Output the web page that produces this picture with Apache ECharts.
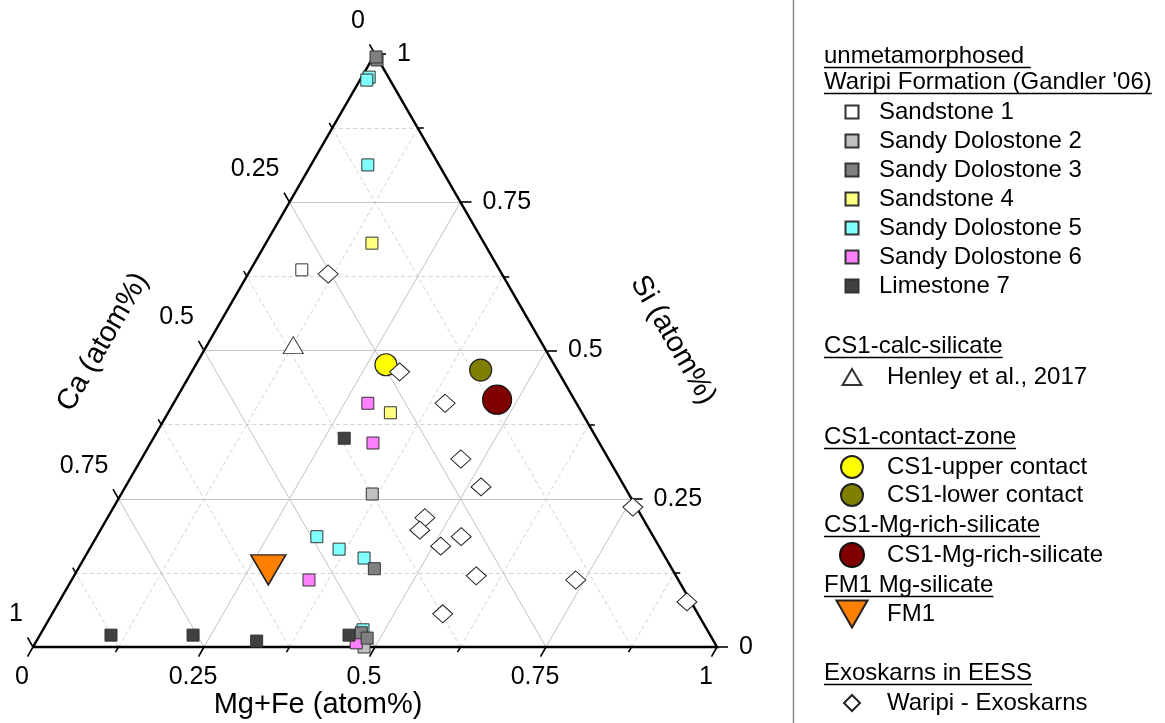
<!DOCTYPE html>
<html><head><meta charset="utf-8">
<script src="https://cdn.jsdelivr.net/npm/echarts@6/dist/echarts.min.js"></script>
<style>html,body{margin:0;padding:0;background:#fff}#c{width:1165px;height:723px}</style>
</head><body><div id="c"></div>
<script>
// ---- data: each point is [Si, Ca, Mg+Fe] (atom fractions) ----
const sandstone1   = [[0.636, 0.289, 0.075]];
const sandyDol2    = [[0.258, 0.375, 0.367], [0.000, 0.516, 0.484]];
const sandyDol3    = [[0.990, 0.002, 0.008], [0.995, 0.001, 0.004], [0.132, 0.435, 0.433], [0.024, 0.508, 0.468], [0.015, 0.504, 0.481]];
const sandstone4   = [[0.681, 0.164, 0.155], [0.395, 0.280, 0.325]];
const sandyDol5    = [[0.961, 0.028, 0.011], [0.956, 0.034, 0.010], [0.813, 0.104, 0.083], [0.186, 0.492, 0.322], [0.165, 0.470, 0.365], [0.150, 0.441, 0.409], [0.029, 0.503, 0.468]];
const sandyDol6    = [[0.411, 0.305, 0.284], [0.344, 0.331, 0.325], [0.113, 0.540, 0.347], [0.007, 0.524, 0.469]];
const limestone7   = [[0.352, 0.369, 0.279], [0.020, 0.876, 0.104], [0.020, 0.756, 0.224], [0.010, 0.668, 0.322], [0.020, 0.528, 0.452]];
const henley       = [[0.509, 0.365, 0.126]];
const upperContact = [[0.476, 0.246, 0.278]];
const lowerContact = [[0.467, 0.112, 0.421]];
const mgRich       = [[0.417, 0.113, 0.470]];
const fm1          = [[0.130, 0.591, 0.279]];
const exoskarns    = [[0.629, 0.254, 0.117], [0.464, 0.232, 0.304], [0.411, 0.192, 0.397], [0.317, 0.216, 0.467],
                      [0.270, 0.210, 0.520], [0.218, 0.318, 0.464], [0.197, 0.336, 0.467], [0.170, 0.319, 0.511],
                      [0.186, 0.281, 0.533], [0.120, 0.292, 0.588], [0.113, 0.150, 0.737], [0.056, 0.373, 0.571],
                      [0.236, 0.005, 0.759], [0.076, 0.006, 0.918]];
const majorTicks = [0, 0.25, 0.5, 0.75, 1];
const tickLabels = ['0', '0.25', '0.5', '0.75', '1'];
const minorTicks = [0.125, 0.375, 0.625, 0.875];

// ---- helpers ----
const FONT = '"Liberation Sans", Arial, Helvetica, sans-serif';
const SQ = Math.sqrt(3) / 2;
const PXU = 684; // pixels per unit (grid width)
function xy(si, mg) { return [mg + si / 2, si * SQ]; }
function pts(arr) { return arr.map(p => xy(p[0], p[2])); }
function gridLinesFor(v) {
  return [
    [xy(v, 0), xy(v, 1 - v)],          // Si = v
    [xy(0, v), xy(1 - v, v)],          // Mg+Fe = v
    [xy(0, 1 - v), xy(1 - v, 0)]       // Ca = v
  ];
}
const allTicks = majorTicks.concat(minorTicks);
function tickSegs() {
  const segs = [];
  allTicks.forEach(v => {
    const L = (majorTicks.indexOf(v) >= 0 ? 11 : 6) / PXU;
    let p = xy(0, v); segs.push([p, [p[0] - 0.5 * L, p[1] - SQ * L]]);      // bottom (Mg+Fe)
    p = xy(1 - v, 0); segs.push([p, [p[0] - 0.5 * L, p[1] + SQ * L]]);      // left (Ca)
    p = xy(v, 1 - v); segs.push([p, [p[0] + L, p[1]]]);                    // right (Si)
  });
  return segs;
}

const squarePath = 'path://M0,0H10V10H0Z';
const triUpPath = 'path://M5,0L10,8.5L0,8.5Z';
const triDownPath = 'path://M0,0L10,0L5,8.7Z';
const diamondPath = 'path://M5,0L10,5L5,10L0,5Z';

function sq(name, data, color) {
  return { type: 'scatter', name, data: pts(data), symbol: 'rect', symbolSize: 12,
    itemStyle: { color, borderColor: '#333', borderWidth: 1, opacity: 1 }, clip: false, z: 5 };
}
function tickLabelSeries(pointFn, offset, align) {
  return { type: 'scatter', silent: true, clip: false, symbolSize: 1, z: 2,
    itemStyle: { color: '#000', opacity: 1 },
    data: majorTicks.map((v, i) => pointFn(v).concat([tickLabels[i]])),
    label: { show: true, position: 'inside', offset, align, verticalAlign: 'middle',
      color: '#000', opacity: 1, textBorderWidth: 0, fontSize: 25, fontFamily: FONT, formatter: p => p.value[2] } };
}

const series = [
  { type: 'lines', coordinateSystem: 'cartesian2d', silent: true, clip: false, z: 1,
    lineStyle: { color: '#d2d2d2', width: 1, type: [4, 3], opacity: 1 },
    data: minorTicks.flatMap(gridLinesFor).map(c => ({ coords: c })) },
  { type: 'lines', coordinateSystem: 'cartesian2d', silent: true, clip: false, z: 1,
    lineStyle: { color: '#c4c4c4', width: 1, type: 'solid', opacity: 1 },
    data: [0.25, 0.5, 0.75].flatMap(gridLinesFor).map(c => ({ coords: c })) },
  { type: 'lines', coordinateSystem: 'cartesian2d', silent: true, clip: false, z: 3,
    lineStyle: { color: '#000', width: 1.6, opacity: 1 },
    data: tickSegs().map(c => ({ coords: c })) },
  { type: 'lines', coordinateSystem: 'cartesian2d', polyline: true, silent: true, clip: false, z: 3,
    lineStyle: { color: '#000', width: 2.5, opacity: 1, join: 'miter' },
    data: [{ coords: [xy(0, 0), xy(0, 1), xy(1, 0), xy(0, 0)] }] },
  tickLabelSeries(v => xy(0, v), [-11, 30], 'center'),
  tickLabelSeries(v => xy(1 - v, 0), [-10, -33], 'right'),
  tickLabelSeries(v => xy(v, 1 - v), [22, 0], 'left'),
  sq('Sandy Dolostone 2', sandyDol2, '#c0c0c0'),
  sq('Sandstone 1', sandstone1, '#ffffff'),
  sq('Sandy Dolostone 6', sandyDol6, '#ff80ff'),
  sq('Limestone 7', limestone7, '#404040'),
  sq('Sandstone 4', sandstone4, '#ffff80'),
  sq('Sandy Dolostone 5', sandyDol5, '#80ffff'),
  sq('Sandy Dolostone 3', sandyDol3, '#808080'),
  { type: 'scatter', name: 'Henley et al., 2017', data: pts(henley), symbol: 'triangle', symbolSize: [20, 17], clip: false, z: 5,
    itemStyle: { color: '#fff', borderColor: '#333', borderWidth: 1, opacity: 1 } },
  { type: 'scatter', name: 'CS1-upper contact', data: pts(upperContact), symbol: 'circle', symbolSize: 22, clip: false, z: 5,
    itemStyle: { color: '#ffff00', borderColor: '#222', borderWidth: 1.2, opacity: 1 } },
  { type: 'scatter', name: 'CS1-lower contact', data: pts(lowerContact), symbol: 'circle', symbolSize: 22, clip: false, z: 5,
    itemStyle: { color: '#808000', borderColor: '#222', borderWidth: 1.2, opacity: 1 } },
  { type: 'scatter', name: 'CS1-Mg-rich-silicate', data: pts(mgRich), symbol: 'circle', symbolSize: 29, clip: false, z: 5,
    itemStyle: { color: '#800000', borderColor: '#111', borderWidth: 1.2, opacity: 1 } },
  { type: 'scatter', name: 'FM1', data: pts(fm1), symbol: 'triangle', symbolRotate: 180, symbolSize: [35, 30], clip: false, z: 5,
    itemStyle: { color: '#ff8000', borderColor: '#222', borderWidth: 1.5, opacity: 1 } },
  { type: 'scatter', name: 'Waripi - Exoskarns', data: pts(exoskarns), symbol: 'diamond', symbolSize: [20, 18], clip: false, z: 6,
    itemStyle: { color: '#fff', borderColor: '#222', borderWidth: 1, opacity: 1 } }
];

// legend: icon centre at x=851; left = centre - iconWidth/2 (layout uses drawn icon bounds)
function legend(names, icon, iconW, w, h, top, lh) {
  return { orient: 'vertical', left: 851 - iconW / 2, top, padding: 0, itemWidth: w, itemHeight: h, itemGap: 0,
    selectedMode: false, symbolKeepAspect: true, symbolRotate: 0,
    textStyle: { fontSize: 24, fontFamily: FONT, color: '#000', lineHeight: lh },
    data: names.map(n => ({ name: n, icon })) };
}
const legends = [
  legend(['Sandstone 1', 'Sandy Dolostone 2', 'Sandy Dolostone 3', 'Sandstone 4', 'Sandy Dolostone 5', 'Sandy Dolostone 6', 'Limestone 7'],
    squarePath, 13, 44, 13, 112 - 14.5, 29),
  legend(['Henley et al., 2017'], triUpPath, 18.8, 60, 16, 377 - 14.5, 29),
  legend(['CS1-upper contact', 'CS1-lower contact'], 'circle', 22, 60, 22, 467 - 14, 28),
  legend(['CS1-Mg-rich-silicate'], 'circle', 24, 60, 24, 555 - 14.5, 29),
  legend(['FM1'], triDownPath, 31, 60, 27, 614 - 14.5, 29),
  legend(['Waripi - Exoskarns'], diamondPath, 16, 60, 16, 703 - 14.5, 29)
];

// headers with underline
const headers = [
  ['unmetamorphosed ', 56], ["Waripi Formation (Gandler '06)", 82], ['CS1-calc-silicate', 346],
  ['CS1-contact-zone', 437], ['CS1-Mg-rich-silicate', 525], ['FM1 Mg-silicate', 585], ['Exoskarns in EESS', 673]
];
const mctx = document.createElement('canvas').getContext('2d');
mctx.font = '24px ' + FONT;
const graphics = [];
headers.forEach(([t, y]) => {
  const w = mctx.measureText(t).width;
  graphics.push({ type: 'text', x: 824, y, silent: true,
    style: { text: t, font: '24px ' + FONT, fill: '#000', align: 'left', verticalAlign: 'middle' } });
  graphics.push({ type: 'line', silent: true, shape: { x1: 824, y1: y + 11.5, x2: 824 + w, y2: y + 11.5 },
    style: { stroke: '#000', lineWidth: 1.3 } });
});
graphics.push({ type: 'line', silent: true, shape: { x1: 793.5, y1: 0, x2: 793.5, y2: 723 }, style: { stroke: '#8a8a8a', lineWidth: 1.5 } });
graphics.push({ type: 'text', x: 318, y: 705, silent: true,
  style: { text: 'Mg+Fe (atom%)', font: '29px ' + FONT, fill: '#000', align: 'center', verticalAlign: 'middle' } });
graphics.push({ type: 'text', x: 103, y: 342, rotation: Math.PI / 3, silent: true,
  style: { text: 'Ca (atom%)', font: '29px ' + FONT, fill: '#000', align: 'center', verticalAlign: 'middle' } });
graphics.push({ type: 'text', x: 673, y: 340, rotation: -Math.PI / 3, silent: true,
  style: { text: 'Si (atom%)', font: '29px ' + FONT, fill: '#000', align: 'center', verticalAlign: 'middle' } });

const chart = echarts.init(document.getElementById('c'), null, { renderer: 'canvas' });
chart.setOption({
  animation: false,
  backgroundColor: '#fff',
  grid: { left: 33, top: 54, width: 684, height: 593 },
  xAxis: { type: 'value', min: 0, max: 1, show: false },
  yAxis: { type: 'value', min: 0, max: SQ, show: false },
  legend: legends,
  graphic: graphics,
  series
});
</script></body></html>
